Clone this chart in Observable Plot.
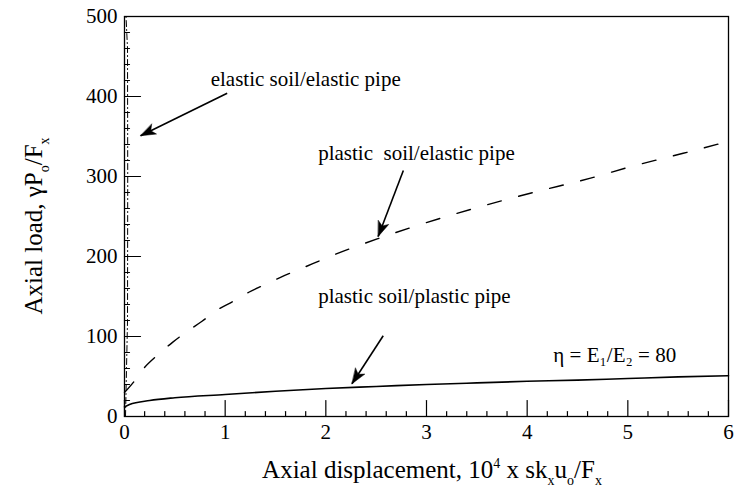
<!DOCTYPE html>
<html><head><meta charset="utf-8">
<script src="https://cdn.jsdelivr.net/npm/d3@7"></script>
<script src="https://cdn.jsdelivr.net/npm/@observablehq/plot@0.6"></script>
<style>body{margin:0;background:#fff}</style>
</head><body><div id="chart"></div>
<script>
// ---- data ----
const elasticX = [0.01, 0.03, 0.032, 0.03, 0.015];
const elasticY = [0, 120, 300, 460, 500];

const plasticElasticX = [0, 0.09, 0.19, 0.33, 0.48, 0.63, 0.77, 0.92, 1.08, 1.23, 1.38, 1.55, 1.70, 1.87, 2.02, 2.51, 2.84, 3.47, 4.06, 4.63, 5.05, 5.55, 6.0];
const plasticElasticY = [30, 43, 60, 77, 93, 107, 119, 133, 144, 155, 164, 174, 182, 191, 199, 222, 236, 260, 280, 298, 313, 329, 344];

const plasticPlasticX = [0, 0.05, 0.25, 0.5, 1, 1.5, 2, 2.5, 3, 3.5, 4, 4.5, 5, 5.5, 6];
const plasticPlasticY = [12, 15, 20, 23.5, 27.5, 31.5, 35, 37.5, 40, 42, 44, 45.5, 47.5, 49.5, 51];

const xMajor = [0, 1, 2, 3, 4, 5, 6];
const xMinor = d3.range(0, 6.001, 0.2).filter(v => Math.abs(v - Math.round(v)) > 1e-6);
const yMajor = [0, 100, 200, 300, 400, 500];
const yMinor = d3.range(0, 500.1, 20).filter(v => v % 100 !== 0);

const noteText = ["elastic soil/elastic pipe", "plastic\u00a0 soil/elastic pipe", "plastic soil/plastic pipe", "\u03b7 = E\u2081/E\u2082 = 80"];
const noteX = [1.80, 2.90, 2.88, 4.87];
const noteY = [422, 329, 150, 76];

const arrowX1 = [1.02, 2.77, 2.57];
const arrowY1 = [404, 307.5, 101];
const arrowX2 = [0.16, 2.52, 2.26];
const arrowY2 = [351, 225, 41];

// ---- build tables ----
const W = 736, H = 498, ML = 124, MR = 8, MT = 16, MB = 82;
const toRows = (xs, ys) => xs.map((x, i) => ({x, y: ys[i]}));
const notes = noteText.map((t, i) => ({t, x: noteX[i], y: noteY[i]}));
const sx = Plot.scale({x: {domain: [0, 6], range: [ML, W - MR]}});
const sy = Plot.scale({y: {domain: [0, 500], range: [H - MB, MT]}});
const arrows = arrowX1.map((x1, i) => {
  const dx = sx.apply(arrowX2[i]) - sx.apply(x1);
  const dy = sy.apply(arrowY2[i]) - sy.apply(arrowY1[i]);
  return {x1, y1: arrowY1[i], x2: arrowX2[i], y2: arrowY2[i], angle: Math.atan2(dx, -dy) * 180 / Math.PI};
});

const tickShape = {draw(ctx, l) { ctx.moveTo(0, 0); ctx.lineTo(0, -l); }};
const headShape = {draw(ctx, l) { ctx.moveTo(0, -l); ctx.lineTo(-5.5, 0); ctx.lineTo(0, -l * 0.25); ctx.lineTo(5.5, 0); ctx.closePath(); }};
const FONT = "'Liberation Serif', 'Times New Roman', serif";

const plot = Plot.plot({
  width: W, height: H,
  marginLeft: ML, marginRight: MR, marginTop: MT, marginBottom: MB,
  style: {fontFamily: FONT, fontSize: "21px", color: "black", background: "white", overflow: "visible"},
  x: {domain: [0, 6]},
  y: {domain: [0, 500]},
  marks: [
    Plot.frame({stroke: "black", strokeWidth: 1.3}),
    // tick labels
    Plot.axisX(xMajor, {tickSize: 0, tickPadding: 8, label: null, tickFormat: d => d, fontSize: 21}),
    Plot.axisY(yMajor, {tickSize: 0, tickPadding: 7, label: null, tickFormat: d => d, fontSize: 21}),
    // inward ticks
    Plot.vector(xMajor, {x: d => d, y: () => 0, length: 16, rotate: 0, anchor: "start", shape: tickShape, stroke: "black", strokeWidth: 1.2}),
    Plot.vector(xMinor, {x: d => d, y: () => 0, length: 5, rotate: 0, anchor: "start", shape: tickShape, stroke: "black", strokeWidth: 1.2}),
    Plot.vector(yMajor, {x: () => 0, y: d => d, length: 16, rotate: 90, anchor: "start", shape: tickShape, stroke: "black", strokeWidth: 1.2}),
    Plot.vector(yMinor, {x: () => 0, y: d => d, length: 5, rotate: 90, anchor: "start", shape: tickShape, stroke: "black", strokeWidth: 1.2}),
    // curves
    Plot.line(toRows(elasticX, elasticY), {x: "x", y: "y", stroke: "black", strokeWidth: 1, strokeDasharray: "6,3,1,3"}),
    Plot.line(toRows(plasticElasticX, plasticElasticY), {x: "x", y: "y", stroke: "black", strokeWidth: 1.4, strokeDasharray: "14,18", curve: "monotone-x"}),
    Plot.line(toRows(plasticPlasticX, plasticPlasticY), {x: "x", y: "y", stroke: "black", strokeWidth: 1.6, curve: "monotone-x"}),
    // annotations
    Plot.link(arrows, {x1: "x1", y1: "y1", x2: "x2", y2: "y2", stroke: "black", strokeWidth: 1.6}),
    Plot.vector(arrows, {x: "x2", y: "y2", rotate: "angle", length: 15, anchor: "end", shape: headShape, fill: "black", stroke: "black", strokeWidth: 0.5}),
    Plot.text(notes, {x: "x", y: "y", text: "t", fontSize: 21, fill: "black"})
  ]
});

const svg = d3.select(plot);
// x axis label with super/subscripts
const xl = svg.append("text")
  .attr("x", 432).attr("y", 478)
  .attr("text-anchor", "middle")
  .attr("font-family", FONT).attr("font-size", 25).attr("fill", "black");
xl.append("tspan").text("Axial displacement, 10");
xl.append("tspan").attr("font-size", 14).attr("dy", -10).text("4");
xl.append("tspan").attr("dy", 10).text(" x sk");
xl.append("tspan").attr("font-size", 14).attr("dy", 7).text("x");
xl.append("tspan").attr("dy", -7).text("u");
xl.append("tspan").attr("font-size", 14).attr("dy", 7).text("o");
xl.append("tspan").attr("dy", -7).text("/F");
xl.append("tspan").attr("font-size", 14).attr("dy", 7).text("x");

// y axis label
const yl = svg.append("text")
  .attr("transform", "translate(42,226) rotate(-90)")
  .attr("text-anchor", "middle")
  .attr("font-family", FONT).attr("font-size", 25).attr("fill", "black");
yl.append("tspan").text("Axial load, \u03b3P");
yl.append("tspan").attr("font-size", 14).attr("dy", 7).text("o");
yl.append("tspan").attr("dy", -7).text("/F");
yl.append("tspan").attr("font-size", 14).attr("dy", 7).text("x");

document.getElementById("chart").appendChild(plot);
</script>
</body></html>
